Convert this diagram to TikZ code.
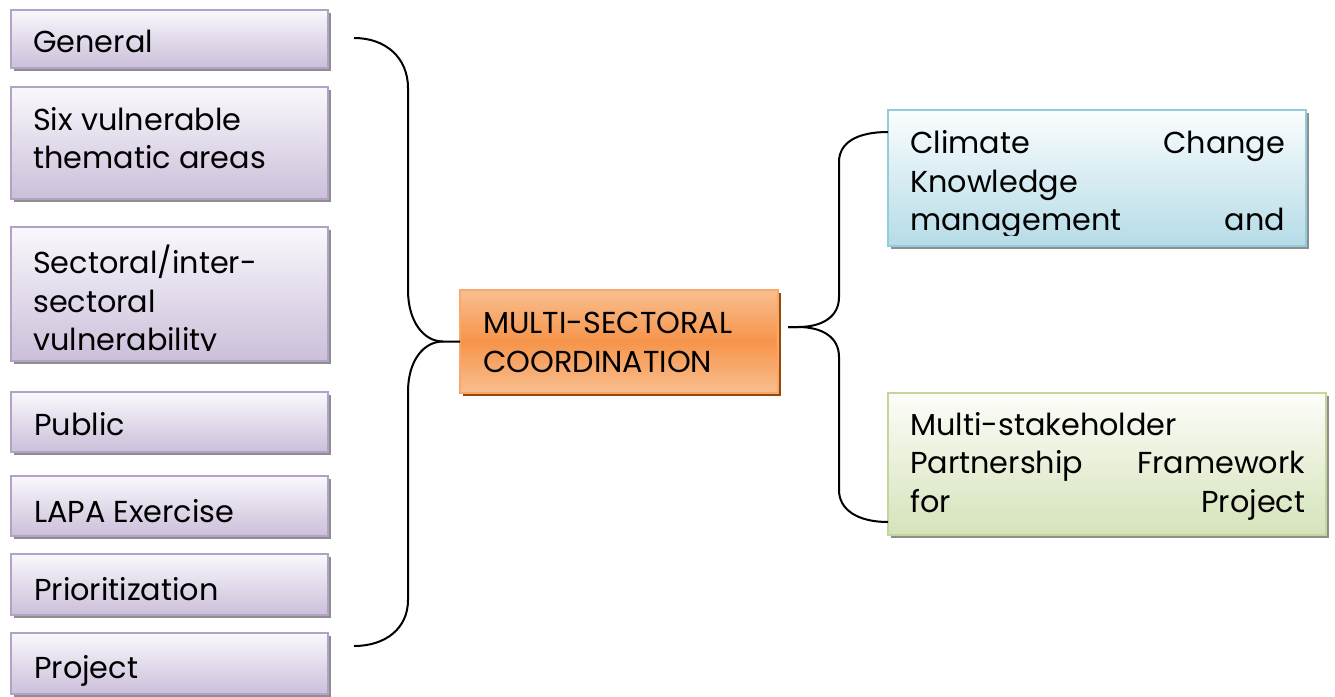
\documentclass[tikz,border=0pt]{standalone}
\usepackage{fontspec}
\setmainfont{Poppins}
\definecolor{lavtop}{HTML}{FAF8FC}
\definecolor{lavbot}{HTML}{CBBFDA}
\definecolor{lavline}{HTML}{B3A2C7}
\definecolor{ortop}{HTML}{F9BF90}
\definecolor{ormid}{HTML}{F6944A}
\definecolor{orline}{HTML}{F9A76A}
\definecolor{orshadow}{HTML}{984806}
\definecolor{bltop}{HTML}{FBFDFE}
\definecolor{blbot}{HTML}{B5DCE7}
\definecolor{blline}{HTML}{93CDDD}
\definecolor{grtop}{HTML}{FCFDF9}
\definecolor{grbot}{HTML}{D5E3BA}
\definecolor{grline}{HTML}{C3D69B}
\definecolor{shadowgray}{HTML}{8E8E8E}
\newcommand{\txtsize}{\fontsize{30.3}{39}\selectfont}
\begin{document}
\begin{tikzpicture}[x=1pt,y=-1pt,
  box/.style={draw, line width=1.5pt, anchor=north west, inner sep=0pt, outer sep=0pt},
  lbox/.style={box, draw=lavline, top color=lavtop, bottom color=lavbot},
  bbox/.style={box, draw=blline, top color=bltop, bottom color=blbot},
  gbox/.style={box, draw=grline, top color=grtop, bottom color=grbot},
  obox/.style={box, draw=orline, top color=ortop, bottom color=ortop, middle color=ormid},
  gshadow/.style={fill=shadowgray},
  oshadow/.style={fill=orshadow},
  txt/.style={anchor=base west, inner sep=0pt, font=\txtsize, text=black},
  brace/.style={draw=black, line width=2pt}
]
\useasboundingbox (0,0) rectangle (1335,696);
% shadows
\foreach \x/\y/\w/\h in {11/10/317/58, 11/87/317/112, 11/227/317/134, 11/392/317/60, 11/476/317/60, 11/554/317/61, 11/633/317/61, 888/110/418/136, 888/393/438/142}
  \fill[gshadow] (\x+3,\y+3) rectangle (\x+\w+3,\y+\h+3);
\fill[oshadow] (463,293) rectangle (781,396);
% left boxes
\node[lbox, minimum width=317pt, minimum height=58pt] (gen) at (11,10) {};
\node[lbox, minimum width=317pt, minimum height=112pt] (six) at (11,87) {};
\node[lbox, minimum width=317pt, minimum height=134pt] (sec) at (11,227) {};
\node[lbox, minimum width=317pt, minimum height=60pt] (pub) at (11,392) {};
\node[lbox, minimum width=317pt, minimum height=60pt] (lapa) at (11,476) {};
\node[lbox, minimum width=317pt, minimum height=61pt] (pri) at (11,554) {};
\node[lbox, minimum width=317pt, minimum height=61pt] (proj) at (11,633) {};
% center
\node[obox, minimum width=318pt, minimum height=103pt] (mc) at (460,290) {};
% right
\node[bbox, minimum width=418pt, minimum height=136pt] (cc) at (888,110) {};
\node[gbox, minimum width=438pt, minimum height=142pt] (ms) at (888,393) {};
% texts
\node[txt] (tgen) at (33,52) {General};
\node[txt] (tsix1) at (33,130) {Six vulnerable};
\node[txt] (tsix2) at (33,168) {thematic areas};
\begin{scope}
  \clip (11,227) rectangle (328,350);
  \node[txt] (tsec1) at (33,273) {Sectoral/inter-};
  \node[txt] (tsec2) at (33,312) {sectoral};
  \node[txt] (tsec3) at (33,350) {vulnerability};
\end{scope}
\node[txt] (tpub) at (34,435) {Public};
\node[txt] (tlapa) at (34,522) {LAPA Exercise};
\node[txt] (tpri) at (34,600) {Prioritization};
\node[txt] (tproj) at (34,678) {Project};
\node[txt] (tmc1) at (483,333) {MULTI-SECTORAL};
\node[txt] (tmc2) at (483,372) {COORDINATION};
\begin{scope}
  \clip (888,110) rectangle (1306,235);
  \node[txt] (tcc1) at (910,153) {\hbox to 375pt{Climate\hfill Change}};
  \node[txt] (tcc2) at (910,192) {Knowledge};
  \node[txt] (tcc3) at (910,230) {\hbox to 375pt{management\hfill and}};
\end{scope}
\node[txt] (tms1) at (910,435) {Multi-stakeholder};
\node[txt] (tms2) at (910,473) {\hbox to 395pt{Partnership\hfill Framework}};
\node[txt] (tms3) at (910,512) {\hbox to 395pt{for\hfill Project}};
% braces
\coordinate (lt) at (354,38);
\coordinate (lb) at (354,646);
\coordinate (ltip) at (443,341.5);
\draw[brace] (lt) .. controls (386,38) and (408,58) .. (408,88) -- (408,290)
  .. controls (408,322) and (424,341.5) .. (ltip) -- (mc.west);
\draw[brace] (ltip) .. controls (424,341.5) and (408,360) .. (408,392) -- (408,600)
  .. controls (408,628) and (386,646) .. (lb);
\coordinate (rtip) at (788,327);
\coordinate (rtop) at (888,132);
\coordinate (rbot) at (888,522);
\draw[brace] (rtip) -- (798,327) .. controls (822,327) and (839,317) .. (839,297) -- (839,162)
  .. controls (839,142) and (858,132) .. (rtop);
\draw[brace] (rtip) -- (798,327) .. controls (822,327) and (839,337) .. (839,357) -- (839,490)
  .. controls (839,510) and (858,522) .. (rbot);
\end{tikzpicture}
\end{document}
